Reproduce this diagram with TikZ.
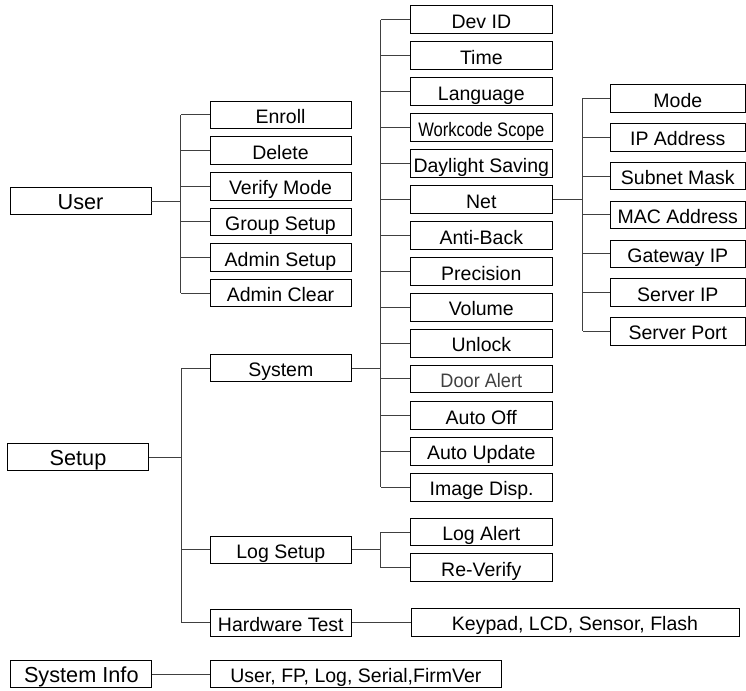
\documentclass[tikz,border=0pt]{standalone}
\usepackage{fontspec}
\setmainfont{Liberation Sans}
\begin{document}
\begin{tikzpicture}[x=1pt,y=-1pt,
  box/.style={draw=black,line width=0.9pt,minimum height=27.5pt,inner sep=0pt,text height=17pt,text depth=0pt,font=\fontsize{19.5}{20}\selectfont},
  topbox/.style={box,minimum width=141pt,font=\fontsize{21.7}{22}\selectfont,text height=17.5pt},
  midbox/.style={box,minimum width=141pt},
  subbox/.style={box,minimum width=141.5pt},
  netbox/.style={box,minimum width=135.3pt},
  conn/.style={draw=black!75,line width=1pt}]
\useasboundingbox (0,0) rectangle (746,690);

% top level
\node[topbox] (user) at (80.5,201) {User};
\node[topbox] (setup) at (78,457) {Setup};
\node[topbox] (sysinfo) at (81.3,674) {System Info};

% user children
\node[midbox] (enroll) at (280.5,115) {Enroll};
\node[midbox] (delete) at (280.5,150.5) {Delete};
\node[midbox] (verify) at (280.5,186.3) {Verify Mode};
\node[midbox] (group) at (280.5,221.8) {Group Setup};
\node[midbox] (asetup) at (280.5,257.5) {Admin Setup};
\node[midbox] (aclear) at (280.5,293) {Admin Clear};

% setup children
\node[midbox] (system) at (280.8,368) {System};
\node[midbox] (logsetup) at (280.8,549.7) {Log Setup};
\node[midbox] (hwtest) at (280.8,622.8) {Hardware Test};

% sysinfo child
\node[box,minimum width=291pt] (info) at (355.9,674) {User, FP, Log, Serial,FirmVer};

% system children
\node[subbox] (devid) at (481.3,19.7) {Dev ID};
\node[subbox] (time) at (481.3,55.7) {Time};
\node[subbox] (lang) at (481.3,91.6) {Language};
\node[subbox] (work) at (481.3,127.6) {\scalebox{0.85}[1]{Workcode Scope}};
\node[subbox] (day) at (481.3,163.6) {Daylight Saving};
\node[subbox] (net) at (481.3,199.6) {Net};
\node[subbox] (anti) at (481.3,235.5) {Anti-Back};
\node[subbox] (prec) at (481.3,271.5) {Precision};
\node[subbox] (vol) at (481.3,307.4) {Volume};
\node[subbox] (unlock) at (481.3,343.2) {Unlock};
\node[subbox,text=black!75] (door) at (481.3,378.7) {\scalebox{0.93}[1]{Door Alert}};
\node[subbox] (autooff) at (481.3,415.5) {Auto Off};
\node[subbox] (autoupd) at (481.3,451.3) {Auto Update};
\node[subbox] (image) at (481.6,487.2) {Image Disp.};

% log setup children
\node[subbox] (logalert) at (481.3,532) {Log Alert};
\node[subbox] (reverify) at (481.3,567.5) {Re-Verify};

% hardware test child
\node[box,minimum width=328pt] (keypad) at (575,622.4) {Keypad, LCD, Sensor, Flash};

% net children
\node[netbox] (mode) at (677.8,98.5) {Mode};
\node[netbox] (ip) at (677.8,137.3) {IP Address};
\node[netbox] (subnet) at (677.8,176.1) {Subnet Mask};
\node[netbox] (mac) at (677.8,214.9) {MAC Address};
\node[netbox] (gw) at (677.8,253.7) {Gateway IP};
\node[netbox] (sip) at (677.8,292.5) {Server IP};
\node[netbox] (sport) at (677.8,331.3) {Server Port};

% spine coordinates
\coordinate (us) at (180.5,201);
\coordinate (ss) at (181.7,457);
\coordinate (sys) at (380.5,368);
\coordinate (ls) at (380.5,549.7);
\coordinate (ns) at (582.7,199.6);

% user tree
\draw[conn] (user.east) -- (us);
\draw[conn] (enroll.west -| us) -- (aclear.west -| us);
\foreach \n in {enroll,delete,verify,group,asetup,aclear}
  \draw[conn] (\n.west) -- (\n.west -| us);

% setup tree
\draw[conn] (setup.east) -- (ss);
\draw[conn] (system.west -| ss) -- (hwtest.west -| ss);
\foreach \n in {system,logsetup,hwtest}
  \draw[conn] (\n.west) -- (\n.west -| ss);

% system tree
\draw[conn] (system.east) -- (sys);
\draw[conn] (devid.west -| sys) -- (image.west -| sys);
\foreach \n in {devid,time,lang,work,day,net,anti,prec,vol,unlock,door,autooff,autoupd,image}
  \draw[conn] (\n.west) -- (\n.west -| sys);

% log tree
\draw[conn] (logsetup.east) -- (ls);
\draw[conn] (logalert.west -| ls) -- (reverify.west -| ls);
\foreach \n in {logalert,reverify}
  \draw[conn] (\n.west) -- (\n.west -| ls);

% net tree
\draw[conn] (net.east) -- (ns);
\draw[conn] (mode.west -| ns) -- (sport.west -| ns);
\foreach \n in {mode,ip,subnet,mac,gw,sip,sport}
  \draw[conn] (\n.west) -- (\n.west -| ns);

% single links
\draw[conn] (hwtest.east) -- (hwtest.east -| keypad.west);
\draw[conn] (sysinfo.east) -- (info.west);
\end{tikzpicture}
\end{document}
